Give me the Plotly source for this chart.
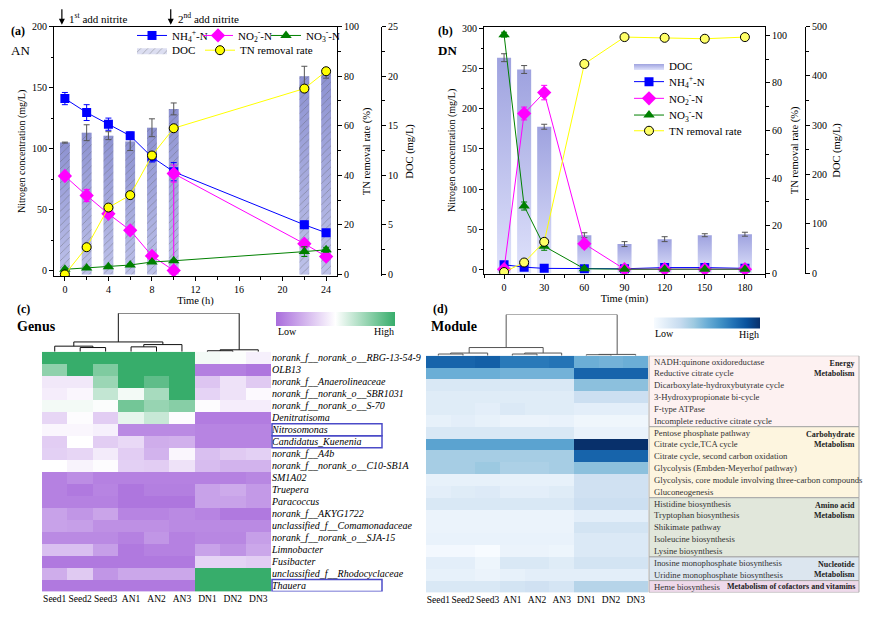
import plotly.graph_objects as go

FONT = "Liberation Serif"
W, H = 874, 621

# ---------------- Panel (a) data ----------------
time_a = [0, 2, 4, 6, 8, 10, 22, 24]
nh4_a = [141, 129.5, 120, 110.5, 93, 81, 37.5, 31]
nh4_a_err = [5, 6.5, 5, 3, 4, 7.5, 3, 2]
no2_t_a = [0, 2, 4, 6, 8, 10, 10, 22, 24]
no2_a = [77.5, 61.5, 46.5, 33, 12, 0, 79.5, 22, 11.5]
no2_a_err = [2, 5, 2, 3, 2, 1, 7, 3, 2]
no3_a = [1, 2, 3, 4.5, 7, 8, 15.5, 17]
no3_a_err = [1, 1, 1, 1, 1, 1, 4, 2]
tn_a = [0, 11, 27, 32, 48, 59, 75, 82]
doc_a = [13.3, 14.3, 14.0, 13.4, 14.8, 16.7, 20.0, 20.3]
doc_a_err = [0.05, 0.8, 0.4, 0.9, 0.9, 0.6, 1.0, 0.5]

# ---------------- Panel (b) data ----------------
time_b = [0, 15, 30, 60, 90, 120, 150, 180]
nh4_b = [6, 3, 1.5, 1, 1, 2.5, 2.5, 1.5]
no2_b = [0.5, 194, 220, 32, 0.5, 0.5, 0.5, 0.5]
no2_b_err = [1, 8, 9, 5, 0.5, 0.5, 0.5, 0.5]
no3_b = [292, 79, 29, 1, 0.5, 0.5, 0.5, 0.5]
no3_b_err = [3, 5, 5, 1, 0.5, 0.5, 0.5, 0.5]
tn_b = [0.5, 4.5, 13.2, 88, 99.3, 99, 98.6, 99.3]
doc_b = [437, 413, 297, 77, 59, 69, 77, 79]
doc_b_err = [8, 8, 5, 5, 5, 5, 3, 4]

# ---------------- Panel (c) data ----------------
samples = ["Seed1", "Seed2", "Seed3", "AN1", "AN2", "AN3", "DN1", "DN2", "DN3"]
genera = [
    "norank_f__norank_o__RBG-13-54-9", "OLB13", "norank_f__Anaerolineaceae",
    "norank_f__norank_o__SBR1031", "norank_f__norank_o__S-70", "Denitratisoma",
    "Nitrosomonas", "Candidatus_Kuenenia", "norank_f__A4b",
    "norank_f__norank_o__C10-SB1A", "SM1A02", "Truepera", "Paracoccus",
    "norank_f__AKYG1722", "unclassified_f__Comamonadaceae",
    "norank_f__norank_o__SJA-15", "Limnobacter", "Fusibacter",
    "unclassified_f__Rhodocyclaceae", "Thauera",
]
genus_z = [
    [1.00, 1.00, 1.00, 1.00, 1.00, 1.00, 0.53, 0.51, 0.45],
    [0.78, 1.00, 0.82, 1.00, 1.00, 1.00, 0.06, 0.06, 0.03],
    [0.42, 0.42, 0.75, 1.00, 0.90, 1.00, 0.30, 0.40, 0.32],
    [0.44, 0.47, 0.65, 0.53, 0.72, 1.00, 0.35, 0.40, 0.48],
    [0.53, 0.53, 0.51, 0.85, 0.76, 0.80, 0.49, 0.44, 0.44],
    [0.36, 0.49, 0.33, 0.56, 0.64, 0.49, 0.05, 0.05, 0.05],
    [0.47, 0.47, 0.45, 0.10, 0.10, 0.10, 0.08, 0.08, 0.08],
    [0.33, 0.50, 0.33, 0.37, 0.22, 0.23, 0.08, 0.08, 0.08],
    [0.34, 0.36, 0.43, 0.33, 0.24, 0.47, 0.28, 0.32, 0.34],
    [0.50, 0.46, 0.49, 0.34, 0.33, 0.40, 0.27, 0.24, 0.24],
    [0.07, 0.11, 0.07, 0.07, 0.07, 0.07, 0.07, 0.07, 0.09],
    [0.07, 0.04, 0.08, 0.03, 0.06, 0.06, 0.18, 0.21, 0.15],
    [0.07, 0.07, 0.07, 0.03, 0.03, 0.03, 0.18, 0.18, 0.15],
    [0.18, 0.14, 0.19, 0.08, 0.08, 0.10, 0.08, 0.04, 0.04],
    [0.18, 0.17, 0.12, 0.12, 0.12, 0.10, 0.10, 0.10, 0.10],
    [0.10, 0.10, 0.10, 0.07, 0.14, 0.07, 0.09, 0.09, 0.17],
    [0.28, 0.28, 0.17, 0.04, 0.07, 0.07, 0.18, 0.13, 0.20],
    [0.04, 0.04, 0.04, 0.04, 0.04, 0.04, 0.35, 0.35, 0.33],
    [0.22, 0.32, 0.14, 0.20, 0.20, 0.20, 1.00, 1.00, 1.00],
    [0.04, 0.04, 0.04, 0.04, 0.04, 0.04, 1.00, 1.00, 1.00],
]
boxed_genera = ["Nitrosomonas", "Candidatus_Kuenenia", "Thauera"]
# dendrogram links: (left node, right node, height); leaves are 0..8
links_c = [(1, 2, 4.3), (0, 9, 5.7), (3, 4, 5.0), (11, 5, 7.3),
           (10, 12, 10.0), (6, 7, 1.0), (14, 8, 2.0), (13, 15, 39.3)]

# ---------------- Panel (d) data ----------------
modules = [
    "NADH:quinone oxidoreductase", "Reductive citrate cycle",
    "Dicarboxylate-hydroxybutyrate cycle", "3-Hydroxypropionate bi-cycle",
    "F-type ATPase", "Incomplete reductive citrate cycle",
    "Pentose phosphate pathway", "Citrate cycle,TCA cycle",
    "Citrate cycle, second carbon oxidation", "Glycolysis (Embden-Meyerhof pathway)",
    "Glycolysis, core module involving three-carbon compounds", "Gluconeogenesis",
    "Histidine biosynthesis", "Tryptophan biosynthesis", "Shikimate pathway",
    "Isoleucine biosynthesis", "Lysine biosynthesis",
    "Inosine monophosphate biosynthesis", "Uridine monophosphate biosynthesis",
    "Heme biosynthesis",
]
module_z = [
    [0.80, 0.80, 0.82, 0.72, 0.72, 0.74, 0.50, 0.48, 0.50],
    [0.50, 0.50, 0.50, 0.48, 0.48, 0.48, 0.80, 0.80, 0.80],
    [0.15, 0.15, 0.15, 0.15, 0.15, 0.15, 0.42, 0.42, 0.42],
    [0.12, 0.12, 0.12, 0.12, 0.12, 0.12, 0.22, 0.22, 0.22],
    [0.12, 0.12, 0.10, 0.14, 0.12, 0.12, 0.10, 0.10, 0.10],
    [0.08, 0.10, 0.08, 0.06, 0.06, 0.07, 0.04, 0.04, 0.04],
    [0.15, 0.15, 0.15, 0.15, 0.15, 0.15, 0.07, 0.07, 0.07],
    [0.55, 0.55, 0.55, 0.55, 0.55, 0.55, 1.00, 1.00, 1.00],
    [0.35, 0.35, 0.35, 0.35, 0.35, 0.35, 0.80, 0.80, 0.80],
    [0.35, 0.35, 0.38, 0.33, 0.33, 0.35, 0.42, 0.42, 0.42],
    [0.08, 0.08, 0.08, 0.08, 0.08, 0.08, 0.20, 0.20, 0.20],
    [0.10, 0.12, 0.13, 0.10, 0.10, 0.12, 0.20, 0.20, 0.20],
    [0.15, 0.15, 0.15, 0.15, 0.15, 0.15, 0.22, 0.22, 0.22],
    [0.06, 0.06, 0.06, 0.06, 0.06, 0.06, 0.10, 0.10, 0.10],
    [0.06, 0.06, 0.06, 0.06, 0.06, 0.06, 0.18, 0.18, 0.18],
    [0.07, 0.07, 0.07, 0.07, 0.07, 0.07, 0.14, 0.14, 0.14],
    [0.02, 0.02, 0.00, 0.06, 0.06, 0.05, 0.14, 0.14, 0.14],
    [0.10, 0.10, 0.05, 0.15, 0.15, 0.12, 0.18, 0.18, 0.18],
    [0.08, 0.08, 0.06, 0.08, 0.10, 0.10, 0.10, 0.10, 0.10],
    [0.15, 0.15, 0.15, 0.18, 0.20, 0.17, 0.30, 0.30, 0.30],
]
module_groups = ["Energy<br>Metabolism", "Carbohydrate<br>Metabolism",
                 "Amino acid<br>Metabolism", "Nucleotide<br>Metabolism",
                 "Metabolism of cofactors and vitamins"]
module_group_sizes = [6, 6, 5, 2, 1]
module_group_colors = ["#fdf1f1", "#fdf5df", "#e1e7db", "#dce6ef", "#eed9ea"]
links_d = [(0, 1, 1.7), (9, 2, 2.7), (3, 4, 1.7), (11, 5, 2.7),
           (10, 12, 8.3), (6, 7, 1.0), (14, 8, 1.3), (13, 15, 42.0)]


def px_x(p):
    return p / W


def px_y(p):
    return 1 - p / H


def dendro_xy(links, n):
    pos = {i: (float(i), 0.0) for i in range(n)}
    xs, ys = [], []
    for k, (a, b, h) in enumerate(links):
        xa, ya = pos[a]
        xb, yb = pos[b]
        xs += [xa, xa, xb, xb, None]
        ys += [ya, h, h, yb, None]
        pos[n + k] = ((xa + xb) / 2, h)
    return xs, ys


def bar_rects(xs, vals, width):
    out = []
    for t, v in zip(xs, vals):
        out.append(([t - width / 2, t + width / 2, t + width / 2, t - width / 2, t - width / 2],
                    [0, 0, v, v, 0]))
    return out


fig = go.Figure()

# ---------- Panel (a) ----------
WA = 0.9
for rx, ry in bar_rects(time_a, doc_a, WA):
    fig.add_trace(go.Scatter(x=rx, y=ry, fill="toself", mode="lines", line=dict(width=0),
                             fillcolor="#acafe2",
                             fillgradient=dict(type="vertical",
                                               colorscale=[[0, "#d3d6f4"], [1, "#8e92d2"]]),
                             hoverinfo="skip", showlegend=False, xaxis="x", yaxis="y"))
hx, hy = [], []
for rx, ry in bar_rects(time_a, doc_a, WA):
    hx += rx + [None]
    hy += ry + [None]
fig.add_trace(go.Scatter(x=hx, y=hy, fill="toself", mode="lines", line=dict(width=0),
                         fillcolor="rgba(0,0,0,0)",
                         fillpattern=dict(shape="/", fgcolor="#5a5a5a", bgcolor="rgba(140,145,210,0.3)",
                                          size=5, solidity=0.14),
                         name="DOC", legend="legend4", xaxis="x", yaxis="y"))
fig.add_trace(go.Scatter(x=time_a, y=doc_a, mode="markers", marker=dict(size=1, color="rgba(0,0,0,0)"),
                         error_y=dict(array=doc_a_err, color="#555555", thickness=1, width=3),
                         showlegend=False, xaxis="x", yaxis="y"))

fig.add_trace(go.Scatter(x=time_a, y=nh4_a, mode="lines+markers", name="NH<sub>4</sub><sup>+</sup>-N",
                         line=dict(color="#0000ff", width=1),
                         marker=dict(symbol="square", size=9, color="#0000ff"),
                         error_y=dict(array=nh4_a_err, color="#0000ff", thickness=1, width=3),
                         legend="legend", xaxis="x", yaxis="y2"))
fig.add_trace(go.Scatter(x=no2_t_a, y=no2_a, mode="lines+markers", name="NO<sub>2</sub><sup>-</sup>-N",
                         line=dict(color="#ff00ff", width=1),
                         marker=dict(symbol="diamond", size=11, color="#ff00ff"),
                         error_y=dict(array=no2_a_err, color="#ff00ff", thickness=1, width=3),
                         legend="legend2", xaxis="x", yaxis="y2"))
fig.add_trace(go.Scatter(x=time_a, y=no3_a, mode="lines+markers", name="NO<sub>3</sub><sup>-</sup>-N",
                         line=dict(color="#008000", width=1),
                         marker=dict(symbol="triangle-up", size=10, color="#008000"),
                         error_y=dict(array=no3_a_err, color="#008000", thickness=1, width=3),
                         legend="legend3", xaxis="x", yaxis="y2"))
fig.add_trace(go.Scatter(x=time_a, y=tn_a, mode="lines+markers", name="TN removal rate",
                         line=dict(color="#ffff00", width=1),
                         marker=dict(symbol="circle", size=9, color="#ffff00",
                                     line=dict(color="black", width=1)),
                         legend="legend5", xaxis="x", yaxis="y3"))

# ---------- Panel (b) ----------
WB = 10.5
for i, (rx, ry) in enumerate(bar_rects(time_b, doc_b, WB)):
    fig.add_trace(go.Scatter(x=rx, y=ry, fill="toself", mode="lines", line=dict(width=0),
                             fillcolor="#bcc0ee",
                             fillgradient=dict(type="vertical",
                                               colorscale=[[0, "#dfe2fb"], [1, "#9ea2df"]]),
                             hoverinfo="skip", name="DOC", showlegend=(i == 0),
                             legend="legend6", xaxis="x2", yaxis="y4"))
fig.add_trace(go.Scatter(x=time_b, y=doc_b, mode="markers", marker=dict(size=1, color="rgba(0,0,0,0)"),
                         error_y=dict(array=doc_b_err, color="#555555", thickness=1, width=3),
                         showlegend=False, xaxis="x2", yaxis="y4"))
fig.add_trace(go.Scatter(x=time_b, y=nh4_b, mode="lines+markers", name="NH<sub>4</sub><sup>+</sup>-N",
                         line=dict(color="#0000ff", width=1),
                         marker=dict(symbol="square", size=9, color="#0000ff"),
                         legend="legend7", xaxis="x2", yaxis="y5"))
fig.add_trace(go.Scatter(x=time_b, y=no2_b, mode="lines+markers", name="NO<sub>2</sub><sup>-</sup>-N",
                         line=dict(color="#ff00ff", width=1),
                         marker=dict(symbol="diamond", size=11, color="#ff00ff"),
                         error_y=dict(array=no2_b_err, color="#ff00ff", thickness=1, width=3),
                         legend="legend8", xaxis="x2", yaxis="y5"))
fig.add_trace(go.Scatter(x=time_b, y=no3_b, mode="lines+markers", name="NO<sub>3</sub><sup>-</sup>-N",
                         line=dict(color="#008000", width=1),
                         marker=dict(symbol="triangle-up", size=10, color="#008000"),
                         error_y=dict(array=no3_b_err, color="#008000", thickness=1, width=3),
                         legend="legend9", xaxis="x2", yaxis="y5"))
fig.add_trace(go.Scatter(x=time_b, y=tn_b, mode="lines+markers", name="TN removal rate",
                         line=dict(color="#ffff00", width=1),
                         marker=dict(symbol="circle", size=9, color="#ffff66",
                                     line=dict(color="black", width=1)),
                         legend="legend10", xaxis="x2", yaxis="y6"))

# ---------- Panel (c) ----------
cs_genus = [[0, "#a96ddc"], [0.5, "#ffffff"], [1, "#37ad6b"]]
fig.add_trace(go.Heatmap(z=genus_z, x=list(range(len(samples))), y=list(range(len(genera))),
                         colorscale=cs_genus, zmin=0, zmax=1, xaxis="x3", yaxis="y7",
                         colorbar=dict(orientation="h", thickness=14, len=119, lenmode="pixels",
                                       x=px_x(335.5), y=px_y(319), xanchor="center", yanchor="middle",
                                       xpad=0, ypad=0,
                                       showticklabels=False, ticks="", outlinewidth=0)))
dxc, dyc = dendro_xy(links_c, len(samples))
fig.add_trace(go.Scatter(x=dxc, y=dyc, mode="lines", line=dict(color="#111111", width=1),
                         showlegend=False, hoverinfo="skip", xaxis="x3", yaxis="y8"))

# ---------- Panel (d) ----------
cs_mod = [[0, "#f7fbff"], [0.125, "#deebf7"], [0.25, "#c6dbef"], [0.375, "#9ecae1"],
          [0.5, "#6baed6"], [0.625, "#4292c6"], [0.75, "#2171b5"], [0.875, "#08519c"],
          [1, "#08306b"]]
fig.add_trace(go.Heatmap(z=module_z, x=list(range(len(samples))), y=list(range(len(modules))),
                         colorscale=cs_mod, zmin=0, zmax=1, xaxis="x4", yaxis="y9",
                         colorbar=dict(orientation="h", thickness=11, len=106, lenmode="pixels",
                                       x=px_x(707), y=px_y(322.5), xanchor="center", yanchor="middle",
                                       xpad=0, ypad=0,
                                       showticklabels=False, ticks="", outlinewidth=0)))
dxd, dyd = dendro_xy(links_d, len(samples))
fig.add_trace(go.Scatter(x=dxd, y=dyd, mode="lines", line=dict(color="#555555", width=1),
                         showlegend=False, hoverinfo="skip", xaxis="x4", yaxis="y10"))

# ---------- Layout ----------
tf = dict(family=FONT, size=10, color="black")
line_ax = dict(showline=True, linecolor="black", linewidth=1, showgrid=False, zeroline=False,
               ticks="outside", ticklen=4, tickcolor="black", tickfont=tf)


def ax(**kw):
    d = dict(line_ax)
    d.update(kw)
    return d


def leg(x, y):
    return dict(orientation="v", x=px_x(x), y=px_y(y), xanchor="left", yanchor="middle",
                itemwidth=30, font=dict(family=FONT, size=11), bgcolor="rgba(0,0,0,0)",
                borderwidth=0)


dom_a = [px_y(275), px_y(21)]
dom_b = [px_y(273), px_y(21)]

layout = dict(
    width=W, height=H, margin=dict(l=0, r=0, t=0, b=0), autosize=False,
    paper_bgcolor="white", plot_bgcolor="rgba(0,0,0,0)",
    font=dict(family=FONT, size=10, color="black"),
    xaxis=ax(domain=[px_x(54), px_x(337)], range=[-1, 25], anchor="y2",
             tickvals=list(range(0, 25, 4)), mirror=True,
             minor=dict(dtick=2, tick0=0, ticks="outside", ticklen=2.5, tickcolor="black"),
             title=dict(text="Time (h)", standoff=2, font=dict(family=FONT, size=10.5))),
    yaxis=ax(domain=dom_a, range=[-0.17, 25], anchor="free", position=px_x(381), side="right",
             dtick=5, minor=dict(dtick=2.5, ticks="outside", ticklen=2.5, tickcolor="black"),
             title=dict(text="DOC (mg/L)", font=dict(family=FONT, size=10.5), standoff=8)),
    yaxis2=ax(overlaying="y", anchor="x", side="left", range=[-4.6, 200], dtick=50,
              minor=dict(dtick=25, ticks="outside", ticklen=2.5, tickcolor="black"),
              title=dict(text="Nitrogen concentration (mg/L)", font=dict(family=FONT, size=10), standoff=4)),
    yaxis3=ax(overlaying="y", anchor="x", side="right", range=[-0.67, 100], dtick=20,
              minor=dict(dtick=10, ticks="outside", ticklen=2.5, tickcolor="black"),
              title=dict(text="TN removal rate (%)", font=dict(family=FONT, size=10.5), standoff=4)),
    xaxis2=ax(domain=[px_x(484), px_x(765)], range=[-15, 195], anchor="y5",
              tickvals=list(range(0, 181, 30)), mirror=True,
              minor=dict(dtick=15, tick0=0, ticks="outside", ticklen=2.5, tickcolor="black"),
              title=dict(text="Time (min)", standoff=2, font=dict(family=FONT, size=10.5))),
    yaxis4=ax(domain=dom_b, range=[-2, 500], anchor="free", position=px_x(805), side="right",
              dtick=100, minor=dict(dtick=50, ticks="outside", ticklen=2.5, tickcolor="black"),
              title=dict(text="DOC (mg/L)", font=dict(family=FONT, size=10.5), standoff=6)),
    yaxis5=ax(overlaying="y4", anchor="x2", side="left", range=[-5.7, 302], dtick=50,
              minor=dict(dtick=25, ticks="outside", ticklen=2.5, tickcolor="black"),
              title=dict(text="Nitrogen concentration (mg/L)", font=dict(family=FONT, size=10), standoff=4)),
    yaxis6=ax(overlaying="y4", anchor="x2", side="right", range=[-0.4, 103.7], dtick=20,
              minor=dict(dtick=10, ticks="outside", ticklen=2.5, tickcolor="black"),
              title=dict(text="TN removal rate (%)", font=dict(family=FONT, size=10.5), standoff=4)),
    xaxis3=dict(domain=[px_x(42), px_x(271)], range=[-0.5, 8.5], anchor="y7",
                tickvals=list(range(len(samples))), ticktext=samples, ticks="", showgrid=False,
                zeroline=False, showline=False, tickangle=0,
                tickfont=dict(family=FONT, size=9.5)),
    yaxis7=dict(domain=[px_y(596), px_y(352)], range=[len(genera) - 0.5, -0.5], anchor="x3",
                side="right", tickvals=list(range(len(genera))),
                ticktext=["<i>%s</i>" % g for g in genera], ticks="", showgrid=False,
                zeroline=False, showline=False, tickfont=dict(family=FONT, size=10)),
    yaxis8=dict(domain=[px_y(352), px_y(312.7)], range=[0, 39.3], anchor="x3", visible=False),
    xaxis4=dict(domain=[px_x(426), px_x(648)], range=[-0.5, 8.5], anchor="y9",
                tickvals=list(range(len(samples))), ticktext=samples, ticks="", showgrid=False,
                zeroline=False, showline=False, tickangle=0,
                tickfont=dict(family=FONT, size=9.5)),
    yaxis9=dict(domain=[px_y(597), px_y(356)], range=[len(modules) - 0.5, -0.5], anchor="x4",
                showticklabels=False, ticks="", showgrid=False, zeroline=False, showline=False),
    yaxis10=dict(domain=[px_y(356), px_y(314)], range=[0, 42], anchor="x4", visible=False),
    legend=leg(132, 30), legend2=leg(198, 30), legend3=leg(266, 30),
    legend4=leg(132, 45), legend5=leg(200, 45),
    legend6=leg(629, 61), legend7=leg(629, 77), legend8=leg(629, 94),
    legend9=leg(629, 111), legend10=leg(629, 127),
)
fig.update_layout(**layout)

# ---------- Shapes ----------
shapes = []
for g in boxed_genera:
    i = genera.index(g)
    shapes.append(dict(type="rect", xref="paper", yref="y7", x0=px_x(272), x1=px_x(382),
                       y0=i - 0.5, y1=i + 0.5, line=dict(color="#4b4bc8", width=1.5),
                       fillcolor="rgba(0,0,0,0)"))
start = 0
for size, col in zip(module_group_sizes, module_group_colors):
    shapes.append(dict(type="rect", xref="paper", yref="y9", x0=px_x(649), x1=px_x(859),
                       y0=start - 0.5, y1=start + size - 0.5, line=dict(color="#a8a8a8", width=1),
                       fillcolor=col, layer="below"))
    start += size
fig.update_layout(shapes=shapes)

# ---------- Annotations ----------
ann = []


def txt(x, y, text, size=11, bold=False, xanchor="left", yanchor="middle", color="black", **kw):
    t = "<b>%s</b>" % text if bold else text
    d = dict(xref="paper", yref="paper", x=px_x(x), y=px_y(y), text=t, showarrow=False,
             xanchor=xanchor, yanchor=yanchor, font=dict(family=FONT, size=size, color=color))
    d.update(kw)
    return d


ann.append(txt(9, 25, "(a)", 12, True))
ann.append(txt(9, 45, "AN", 13))
ann.append(txt(436, 25, "(b)", 12, True))
ann.append(txt(436, 45, "DN", 13, True))
ann.append(txt(15, 308, "(c)", 12, True))
ann.append(txt(15, 326, "Genus", 14, True))
ann.append(txt(431, 308, "(d)", 12, True))
ann.append(txt(429, 326, "Module", 14, True))
ann.append(txt(276, 331, "Low", 10))
ann.append(txt(396, 331, "High", 10, xanchor="right"))
ann.append(txt(653, 333, "Low", 10))
ann.append(txt(761, 334, "High", 10, xanchor="right"))

# nitrite addition arrows
for xv, label in [(0, "1<sup>st</sup> add nitrite"), (10, "2<sup>nd</sup> add nitrite")]:
    ann.append(dict(xref="x", yref="paper", x=xv, y=px_y(19), ax=0, ay=-17, text="",
                    showarrow=True, arrowhead=2, arrowsize=1, arrowwidth=1.2, arrowcolor="black",
                    xshift=-3))
    ann.append(dict(xref="x", yref="paper", x=xv, y=px_y(12), text=label, showarrow=False,
                    xanchor="left", yanchor="middle", xshift=2,
                    font=dict(family=FONT, size=11)))

# module labels
for i, m in enumerate(modules):
    ann.append(dict(xref="paper", yref="y9", x=px_x(652), y=i, text=m, showarrow=False,
                    xanchor="left", yanchor="middle", font=dict(family=FONT, size=8.7, color="#333333")))
start = 0
for g, size in zip(module_groups, module_group_sizes):
    if size > 1:
        ann.append(dict(xref="paper", yref="y9", x=px_x(857), y=start - 0.5, text="<b>%s</b>" % g,
                        showarrow=False, xanchor="right", yanchor="top", align="right", yshift=-1,
                        font=dict(family=FONT, size=8, color="#222222")))
    else:
        ann.append(dict(xref="paper", yref="y9", x=px_x(857), y=start, text="<b>%s</b>" % g,
                        showarrow=False, xanchor="right", yanchor="middle",
                        font=dict(family=FONT, size=8, color="#222222")))
    start += size

fig.update_layout(annotations=ann)

fig.write_html("out.html", config={"displayModeBar": False},
               post_script="document.body.style.margin='0';document.body.style.overflow='hidden';")
